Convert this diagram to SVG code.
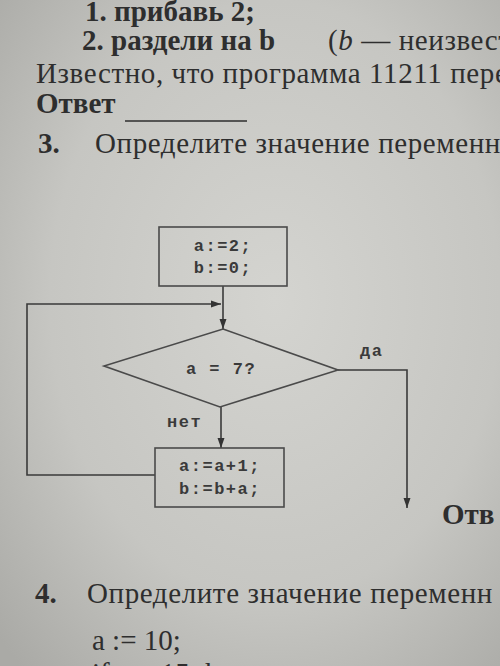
<svg xmlns="http://www.w3.org/2000/svg" width="500" height="666" viewBox="0 0 500 666">
<defs>
<radialGradient id="paper" cx="0.55" cy="0.45" r="0.75">
<stop offset="0" stop-color="#d4d4d0"/>
<stop offset="0.6" stop-color="#c6c6c2"/>
<stop offset="1" stop-color="#aaaaa6"/>
</radialGradient>
<marker id="arr" viewBox="0 0 10 10" refX="10" refY="5" markerWidth="10" markerHeight="10" markerUnits="userSpaceOnUse" orient="auto">
<path d="M0,1.5 L10,5 L0,8.5 Z" fill="#333"/>
</marker>
<style>
.pg{font-family:"Liberation Serif","Times New Roman",serif;fill:#2e2e2e;font-size:29px}
.r{letter-spacing:0.6px}
.b{font-weight:bold}
.m{font-family:"Liberation Mono","Courier New",monospace;font-size:17px;font-weight:bold;fill:#3a3a3a;letter-spacing:1.5px}
.shape{fill:none;stroke:#4a4a4a;stroke-width:1.6}
.ln{fill:none;stroke:#3a3a3a;stroke-width:1.6}
</style>
</defs>
<rect width="500" height="666" fill="url(#paper)"/>
<g id="page-text">
<text class="pg b" x="85" y="21">1. прибавь 2;</text>
<text class="pg b" x="82" y="50">2. раздели на b</text>
<text class="pg r" x="328" y="50">(<tspan font-style="italic">b</tspan> — неизвест</text>
<text class="pg r" x="36" y="83">Известно, что программа 11211 пере</text>
<text class="pg b" x="36" y="113">Ответ</text>
<line x1="125" y1="121" x2="247" y2="121" stroke="#2e2e2e" stroke-width="1.5"/>
<text class="pg b" x="38" y="153">3.</text>
<text class="pg r" x="95" y="153">Определите значение переменн</text>
<text class="pg b" x="442" y="524">Отв</text>
<text class="pg b" x="35" y="603">4.</text>
<text class="pg r" x="87" y="603">Определите значение переменн</text>
<text class="pg" x="92" y="650" font-size="30">a := 10;</text>
<text class="pg" x="92" y="683" font-size="30">if a &lt; 15 then</text>
</g>
<g id="connectors">
<line class="ln" x1="223" y1="286" x2="223" y2="329" marker-end="url(#arr)"/>
<polyline class="ln" points="155,475 27,475 27,304 221,304" marker-end="url(#arr)"/>
<line class="ln" x1="221" y1="407" x2="221" y2="448" marker-end="url(#arr)"/>
<polyline class="ln" points="338,370 407,370 407,508" marker-end="url(#arr)"/>
<text class="m" x="360" y="356">да</text>
<text class="m" x="167" y="427">нет</text>
</g>
<g id="init">
<rect class="shape" x="159" y="227" width="128" height="59"/>
<text class="m" x="223" y="251" text-anchor="middle">a:=2;</text>
<text class="m" x="223" y="273" text-anchor="middle">b:=0;</text>
</g>
<g id="cond">
<polygon class="shape" points="223,329 338,370 220,407 104,366"/>
<text class="m" x="221" y="374" text-anchor="middle">a = 7?</text>
</g>
<g id="body">
<rect class="shape" x="155" y="448" width="129" height="59"/>
<text class="m" x="220" y="471" text-anchor="middle">a:=a+1;</text>
<text class="m" x="220" y="494" text-anchor="middle">b:=b+a;</text>
</g>
</svg>
